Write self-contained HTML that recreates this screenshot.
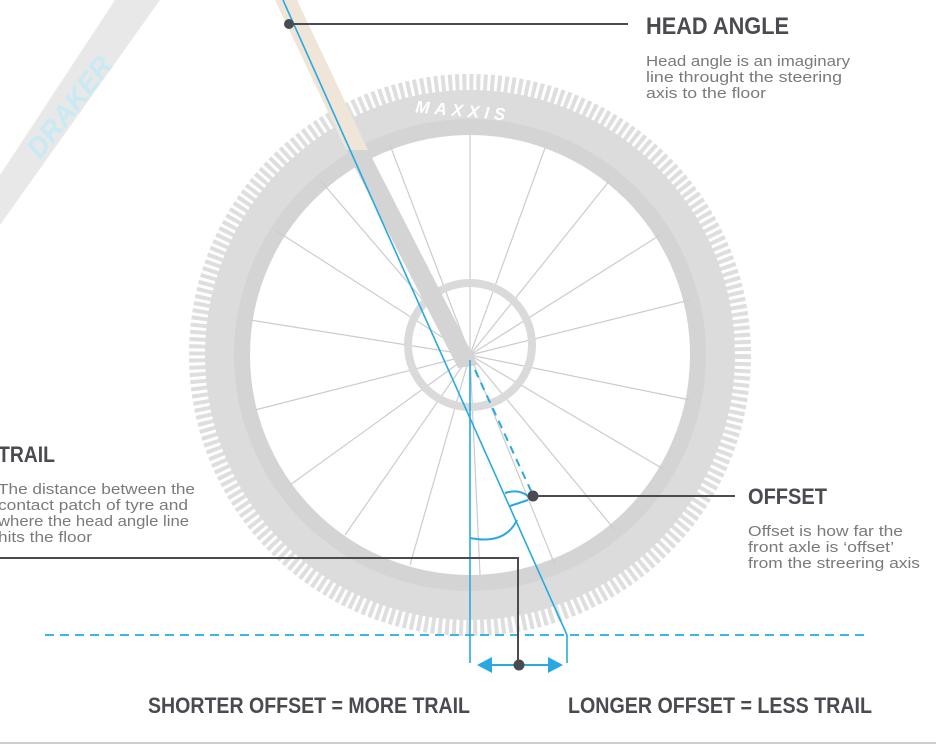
<!DOCTYPE html>
<html><head><meta charset="utf-8"><style>
html,body{margin:0;padding:0;background:#fff;}
svg{display:block}
.t{font-family:"Liberation Sans",sans-serif;font-weight:bold;fill:#4a4b50}
.b{font-family:"Liberation Sans",sans-serif;fill:#7a7a7a;font-size:15px}
</style></head><body>
<svg width="936" height="749" viewBox="0 0 936 749" xmlns="http://www.w3.org/2000/svg">
<polygon points="0,175 115,0 160,0 0,225" fill="#e8e8e8"/>
<text x="0" y="0" transform="translate(40,160) rotate(-52)" font-family="Liberation Sans" font-style="italic" font-weight="bold" font-size="28" fill="#c8eaf4">DRAKER</text>
<circle cx="470" cy="355" r="272" fill="none" stroke="#dedede" stroke-width="18" stroke-dasharray="4 3"/>
<circle cx="470" cy="355" r="250" fill="none" stroke="#dcdcdc" stroke-width="30"/>
<circle cx="470" cy="355" r="228" fill="none" stroke="#d4d4d4" stroke-width="16"/>
<g stroke="#cccccc" stroke-width="1.2">
<line x1="470" y1="355" x2="470" y2="135"/><line x1="470" y1="355" x2="545" y2="148"/><line x1="470" y1="355" x2="610" y2="180"/><line x1="470" y1="355" x2="660" y2="235"/><line x1="470" y1="355" x2="690" y2="300"/><line x1="470" y1="355" x2="690" y2="400"/><line x1="470" y1="355" x2="665" y2="470"/><line x1="470" y1="355" x2="615" y2="530"/><line x1="470" y1="355" x2="555" y2="565"/><line x1="470" y1="355" x2="480" y2="575"/><line x1="470" y1="355" x2="410" y2="565"/><line x1="470" y1="355" x2="345" y2="535"/><line x1="470" y1="355" x2="290" y2="485"/><line x1="470" y1="355" x2="255" y2="410"/><line x1="470" y1="355" x2="250" y2="320"/><line x1="470" y1="355" x2="275" y2="230"/><line x1="470" y1="355" x2="320" y2="180"/><line x1="470" y1="355" x2="390" y2="145"/>
</g>
<text x="415" y="118" font-family="Liberation Sans" font-weight="bold" font-style="italic" font-size="17" fill="#fff" letter-spacing="5" transform="rotate(5 480 115)">MAXXIS</text>
<circle cx="470" cy="345" r="62" fill="none" stroke="#dadada" stroke-width="8"/>
<polygon points="275,0 297,0 368,150 346,150" fill="#efe5d8"/>
<polygon points="346,150 368,150 478,365 458,368" fill="#d4d4d4"/>
<line x1="45" y1="635" x2="865" y2="635" stroke="#3bb6e6" stroke-width="2" stroke-dasharray="9 6"/>
<line x1="283" y1="0" x2="567" y2="635" stroke="#2aa9e0" stroke-width="1.6"/>
<line x1="567" y1="635" x2="567" y2="663" stroke="#2aa9e0" stroke-width="1.6"/>
<line x1="470" y1="360" x2="470" y2="663" stroke="#2aa9e0" stroke-width="1.6"/>
<line x1="475" y1="370" x2="532" y2="493" stroke="#2aa9e0" stroke-width="2" stroke-dasharray="8 6"/>
<path d="M470,538 Q505,545 517,520" fill="none" stroke="#2aa9e0" stroke-width="2"/>
<path d="M505,493 Q520,488 530,498 M510,506 L528,500" fill="none" stroke="#2aa9e0" stroke-width="2"/>
<line x1="488" y1="665" x2="555" y2="665" stroke="#2aa9e0" stroke-width="2"/>
<polygon points="477,665 492,657 492,673" fill="#2aa9e0"/>
<polygon points="563,665 548,657 548,673" fill="#2aa9e0"/>
<g stroke="#4a4b50" stroke-width="2" fill="none">
<line x1="289" y1="24" x2="628" y2="24"/>
<line x1="533" y1="496" x2="735" y2="496"/>
<polyline points="0,558 518,558 518,665"/>
</g>
<circle cx="289" cy="24" r="5" fill="#4a4b50"/>
<circle cx="533" cy="496" r="5.5" fill="#4a4b50"/>
<circle cx="519" cy="665" r="5.5" fill="#4a4b50"/>
<text class="t" x="646" y="34" font-size="24" textLength="143" lengthAdjust="spacingAndGlyphs">HEAD ANGLE</text>
<text class="b" x="646" y="66" textLength="204" lengthAdjust="spacingAndGlyphs">Head angle is an imaginary</text>
<text class="b" x="646" y="82" textLength="196" lengthAdjust="spacingAndGlyphs">line throught the steering</text>
<text class="b" x="646" y="98" textLength="120" lengthAdjust="spacingAndGlyphs">axis to the floor</text>
<text class="t" x="-2" y="462" font-size="22" textLength="57" lengthAdjust="spacingAndGlyphs">TRAIL</text>
<text class="b" x="-2" y="494" textLength="197" lengthAdjust="spacingAndGlyphs">The distance between the</text>
<text class="b" x="-2" y="510" textLength="190" lengthAdjust="spacingAndGlyphs">contact patch of tyre and</text>
<text class="b" x="-2" y="526" textLength="191" lengthAdjust="spacingAndGlyphs">where the head angle line</text>
<text class="b" x="-2" y="542" textLength="94" lengthAdjust="spacingAndGlyphs">hits the floor</text>
<text class="t" x="748" y="504" font-size="22" textLength="79" lengthAdjust="spacingAndGlyphs">OFFSET</text>
<text class="b" x="748" y="536" textLength="155" lengthAdjust="spacingAndGlyphs">Offset is how far the</text>
<text class="b" x="748" y="552" textLength="146" lengthAdjust="spacingAndGlyphs">front axle is ‘offset’</text>
<text class="b" x="748" y="568" textLength="172" lengthAdjust="spacingAndGlyphs">from the streering axis</text>
<text class="t" x="148" y="713" font-size="22" textLength="322" lengthAdjust="spacingAndGlyphs">SHORTER OFFSET = MORE TRAIL</text>
<text class="t" x="568" y="713" font-size="22" textLength="304" lengthAdjust="spacingAndGlyphs">LONGER OFFSET = LESS TRAIL</text>
<line x1="0" y1="743" x2="936" y2="743" stroke="#bdbdbd" stroke-width="1.5"/>
</svg>
</body></html>
